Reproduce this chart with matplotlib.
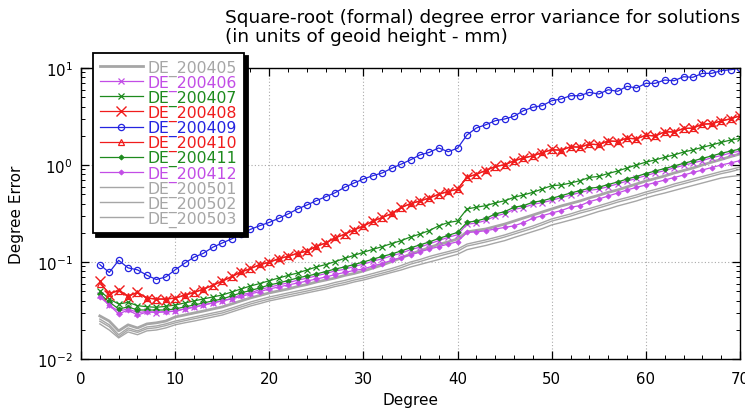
import numpy as np
import matplotlib
matplotlib.use("Agg")
import matplotlib.pyplot as plt
from matplotlib.ticker import MultipleLocator, LogLocator, NullFormatter

degrees = list(range(2, 71))
series_names = ["DE_200405", "DE_200406", "DE_200407", "DE_200408", "DE_200409", "DE_200410",
                "DE_200411", "DE_200412", "DE_200501", "DE_200502", "DE_200503"]

de_200405 = [0.0278, 0.0246, 0.0195, 0.0225, 0.0209, 0.023, 0.0236, 0.0246, 0.0271, 0.0284,
             0.0298, 0.0312, 0.0328, 0.0344, 0.0369, 0.0397, 0.0426, 0.0452, 0.048, 0.0503,
             0.0527, 0.0559, 0.0586, 0.0622, 0.0652, 0.0684, 0.0727, 0.0761, 0.0808, 0.0866,
             0.0931, 0.101, 0.110, 0.121, 0.130, 0.141, 0.152, 0.161, 0.173, 0.204,
             0.212, 0.219, 0.232, 0.246, 0.264, 0.284, 0.305, 0.328, 0.352, 0.378,
             0.401, 0.426, 0.458, 0.487, 0.523, 0.553, 0.594, 0.637, 0.684, 0.726,
             0.770, 0.827, 0.877, 0.931, 1.00, 1.07, 1.14, 1.22, 1.30]
de_200406 = [0.046, 0.036, 0.031, 0.033, 0.030, 0.031, 0.030, 0.031, 0.031, 0.033,
             0.034, 0.036, 0.038, 0.040, 0.042, 0.046, 0.048, 0.052, 0.055, 0.058,
             0.061, 0.065, 0.068, 0.072, 0.076, 0.081, 0.084, 0.090, 0.095, 0.102,
             0.108, 0.116, 0.123, 0.134, 0.142, 0.154, 0.166, 0.180, 0.191, 0.245,
             0.252, 0.268, 0.297, 0.315, 0.349, 0.364, 0.393, 0.409, 0.432, 0.461,
             0.489, 0.520, 0.548, 0.564, 0.598, 0.639, 0.682, 0.728, 0.777, 0.829,
             0.875, 0.934, 0.99, 1.05, 1.11, 1.19, 1.25, 1.33, 1.39]
de_200407 = [0.0506, 0.0416, 0.0369, 0.0384, 0.0355, 0.0346, 0.0341, 0.0349, 0.036, 0.0378,
             0.0397, 0.0416, 0.0436, 0.0457, 0.049, 0.0527, 0.0566, 0.060, 0.0641, 0.0684,
             0.0727, 0.077, 0.0827, 0.0888, 0.0942, 0.101, 0.109, 0.117, 0.126, 0.135,
             0.144, 0.155, 0.166, 0.181, 0.194, 0.211, 0.236, 0.255, 0.265, 0.352,
             0.367, 0.381, 0.406, 0.428, 0.464, 0.491, 0.523, 0.566, 0.612, 0.622,
             0.652, 0.689, 0.745, 0.763, 0.817, 0.867, 0.931, 1.00, 1.07, 1.13,
             1.20, 1.27, 1.36, 1.43, 1.52, 1.61, 1.71, 1.81, 1.88]
de_200408 = [0.063, 0.046, 0.052, 0.044, 0.049, 0.042, 0.042, 0.041, 0.043, 0.045,
             0.049, 0.052, 0.058, 0.063, 0.071, 0.078, 0.086, 0.093, 0.100, 0.107,
             0.115, 0.122, 0.130, 0.144, 0.158, 0.176, 0.194, 0.213, 0.236, 0.262,
             0.289, 0.313, 0.367, 0.396, 0.428, 0.454, 0.502, 0.530, 0.566, 0.744,
             0.807, 0.873, 0.97, 1.00, 1.11, 1.17, 1.25, 1.33, 1.45, 1.41,
             1.55, 1.52, 1.65, 1.61, 1.78, 1.74, 1.90, 1.85, 2.04, 1.98,
             2.21, 2.18, 2.39, 2.39, 2.65, 2.65, 2.86, 2.98, 3.23]
de_200409 = [0.094, 0.078, 0.104, 0.087, 0.083, 0.073, 0.066, 0.070, 0.083, 0.097,
             0.112, 0.123, 0.142, 0.157, 0.173, 0.194, 0.217, 0.237, 0.256, 0.282,
             0.313, 0.352, 0.387, 0.429, 0.471, 0.518, 0.589, 0.652, 0.717, 0.776,
             0.828, 0.925, 1.02, 1.13, 1.27, 1.35, 1.50, 1.37, 1.49, 2.04,
             2.41, 2.60, 2.86, 2.98, 3.18, 3.63, 3.94, 4.09, 4.60, 4.79,
             5.18, 5.18, 5.61, 5.39, 5.97, 5.75, 6.48, 6.22, 6.95, 6.95,
             7.52, 7.39, 8.13, 8.02, 8.81, 8.81, 9.37, 9.60, 10.0]
de_200410 = [0.060, 0.048, 0.050, 0.045, 0.048, 0.043, 0.041, 0.042, 0.042, 0.046,
             0.048, 0.053, 0.057, 0.064, 0.070, 0.080, 0.085, 0.095, 0.099, 0.109,
             0.114, 0.124, 0.129, 0.146, 0.156, 0.179, 0.192, 0.216, 0.233, 0.266,
             0.286, 0.318, 0.362, 0.402, 0.423, 0.460, 0.496, 0.538, 0.560, 0.755,
             0.798, 0.885, 0.96, 1.01, 1.10, 1.19, 1.24, 1.35, 1.43, 1.43,
             1.53, 1.54, 1.63, 1.63, 1.76, 1.76, 1.88, 1.87, 2.02, 2.00,
             2.19, 2.20, 2.37, 2.41, 2.62, 2.68, 2.83, 3.01, 3.20]
de_200411 = [0.0468, 0.0387, 0.0328, 0.0344, 0.032, 0.032, 0.032, 0.032, 0.0328, 0.0344,
             0.036, 0.0378, 0.0397, 0.0416, 0.0447, 0.048, 0.0509, 0.054, 0.058, 0.0607,
             0.0644, 0.0684, 0.0718, 0.0752, 0.0798, 0.0847, 0.0888, 0.0942, 0.100, 0.107,
             0.114, 0.121, 0.130, 0.140, 0.150, 0.161, 0.175, 0.188, 0.202, 0.256,
             0.265, 0.281, 0.313, 0.330, 0.367, 0.381, 0.413, 0.428, 0.454, 0.482,
             0.514, 0.544, 0.576, 0.590, 0.629, 0.668, 0.717, 0.761, 0.817, 0.867,
             0.920, 0.976, 1.04, 1.10, 1.17, 1.24, 1.32, 1.39, 1.46]
de_200412 = [0.0436, 0.036, 0.0291, 0.032, 0.0284, 0.0305, 0.0305, 0.0305, 0.0312, 0.0328,
             0.0344, 0.036, 0.0378, 0.0397, 0.0416, 0.0441, 0.0468, 0.0496, 0.0527, 0.0553,
             0.058, 0.0607, 0.0637, 0.0668, 0.070, 0.0743, 0.078, 0.0818, 0.0847, 0.091,
             0.0965, 0.104, 0.111, 0.118, 0.127, 0.136, 0.144, 0.153, 0.162, 0.202,
             0.205, 0.210, 0.219, 0.227, 0.236, 0.255, 0.283, 0.300, 0.320, 0.339,
             0.367, 0.381, 0.419, 0.446, 0.479, 0.514, 0.553, 0.588, 0.622, 0.660,
             0.700, 0.743, 0.788, 0.837, 0.888, 0.942, 1.00, 1.05, 1.11]
de_200501 = [0.0258, 0.0225, 0.0178, 0.0209, 0.0195, 0.0214, 0.0219, 0.023, 0.0246, 0.0258,
             0.0271, 0.0284, 0.0298, 0.0312, 0.0335, 0.036, 0.0387, 0.0411, 0.0436, 0.0457,
             0.048, 0.0503, 0.0527, 0.0553, 0.058, 0.0616, 0.0645, 0.0684, 0.0718, 0.0761,
             0.0808, 0.0857, 0.092, 0.100, 0.106, 0.114, 0.121, 0.128, 0.136, 0.153,
             0.161, 0.169, 0.179, 0.190, 0.204, 0.219, 0.235, 0.255, 0.278, 0.295,
             0.313, 0.336, 0.356, 0.380, 0.406, 0.436, 0.462, 0.491, 0.527, 0.559,
             0.594, 0.637, 0.675, 0.717, 0.761, 0.807, 0.857, 0.898, 0.953]
de_200502 = [0.0245, 0.0215, 0.0170, 0.0200, 0.0188, 0.0205, 0.0210, 0.0221, 0.0236, 0.0248,
             0.0260, 0.0272, 0.0285, 0.0298, 0.0320, 0.0344, 0.0369, 0.0392, 0.0415, 0.0436,
             0.0458, 0.0479, 0.0502, 0.0527, 0.0552, 0.0586, 0.0614, 0.0651, 0.0683, 0.0724,
             0.0768, 0.0815, 0.0874, 0.0950, 0.101, 0.108, 0.115, 0.122, 0.129, 0.146,
             0.153, 0.161, 0.170, 0.181, 0.194, 0.208, 0.223, 0.242, 0.264, 0.280,
             0.297, 0.319, 0.338, 0.361, 0.386, 0.414, 0.439, 0.466, 0.500, 0.531,
             0.564, 0.605, 0.641, 0.681, 0.723, 0.767, 0.814, 0.853, 0.905]
de_200503 = [0.023, 0.0199, 0.0165, 0.0190, 0.0178, 0.0195, 0.0199, 0.0209, 0.0225, 0.0236,
             0.0246, 0.0258, 0.0271, 0.0284, 0.0305, 0.0328, 0.0352, 0.0373, 0.0397, 0.0416,
             0.0436, 0.0457, 0.048, 0.0503, 0.0527, 0.0559, 0.0586, 0.0622, 0.0652, 0.0692,
             0.0735, 0.078, 0.0827, 0.0888, 0.0942, 0.100, 0.106, 0.113, 0.120, 0.134,
             0.141, 0.148, 0.157, 0.166, 0.179, 0.192, 0.206, 0.221, 0.241, 0.255,
             0.271, 0.288, 0.309, 0.332, 0.352, 0.378, 0.401, 0.426, 0.458, 0.487,
             0.514, 0.546, 0.580, 0.615, 0.652, 0.692, 0.734, 0.761, 0.78]

x_tick_values = [0, 10, 20, 30, 40, 50, 60, 70]
x_tick_labels = ["0", "10", "20", "30", "40", "50", "60", "70"]
title_lines = ["Square-root (formal) degree error variance for solutions",
               "(in units of geoid height - mm)"]

plt.rcParams['font.family'] = ['DejaVu Sans']

GRAY = "#a6a6a6"
PURPLE = "#c24de6"
GREEN = "#1d8a1d"
RED = "#f01c1c"
BLUE = "#2424e0"

styles = [
    dict(color=GRAY, lw=2.0, marker=None),
    dict(color=PURPLE, lw=0.9, marker='x', ms=4.5, mew=0.9),
    dict(color=GREEN, lw=0.9, marker='x', ms=4.5, mew=0.9),
    dict(color=RED, lw=0.9, marker='x', ms=6.5, mew=1.0),
    dict(color=BLUE, lw=0.9, marker='o', ms=4.5, mew=0.9, mfc='none'),
    dict(color=RED, lw=0.9, marker='^', ms=4.5, mew=0.9, mfc='none'),
    dict(color=GREEN, lw=0.9, marker='D', ms=2.6, mew=0.6),
    dict(color=PURPLE, lw=0.9, marker='D', ms=2.6, mew=0.6),
    dict(color=GRAY, lw=1.0, marker=None),
    dict(color=GRAY, lw=1.0, marker=None),
    dict(color=GRAY, lw=1.0, marker=None),
]
all_series = [de_200405, de_200406, de_200407, de_200408, de_200409, de_200410,
              de_200411, de_200412, de_200501, de_200502, de_200503]

fig = plt.figure(figsize=(7.45, 4.10), dpi=100)
ax = fig.add_axes([81/745, 50/410, 659/745, 291/410])

for name, vals, st in zip(series_names, all_series, styles):
    ax.plot(degrees, vals, label=name, **st)

ax.set_yscale('log')
ax.set_xlim(0, 70)
ax.set_ylim(0.01, 10)
ax.set_xticks(x_tick_values)
ax.set_xticklabels(x_tick_labels)
ax.xaxis.set_minor_locator(MultipleLocator(2))
ax.yaxis.set_major_locator(LogLocator(base=10, numticks=10))
ax.yaxis.set_minor_locator(LogLocator(base=10, subs=np.arange(2, 10), numticks=20))
ax.yaxis.set_minor_formatter(NullFormatter())

ax.tick_params(which='both', direction='in', top=True, right=True, colors='black')
ax.tick_params(which='major', length=5.5, width=0.9, labelsize=10.8)
ax.tick_params(which='minor', length=2.8, width=0.7)
ax.tick_params(axis='x', which='major', pad=9)
ax.tick_params(axis='y', which='major', pad=6)

for sp in ax.spines.values():
    sp.set_linewidth(1.0)
    sp.set_color('black')

ax.grid(True, which='major', linestyle=(0, (1, 2)), color='#aaaaaa', linewidth=0.8)
ax.set_axisbelow(True)

ax.set_xlabel("Degree", fontsize=11, labelpad=4)
ax.set_ylabel("Degree Error", fontsize=11, labelpad=9)

fig.text(225/745, 1 - 23/410, title_lines[0], fontsize=13.3, va='baseline', ha='left')
fig.text(225/745, 1 - 42/410, title_lines[1], fontsize=13.3, va='baseline', ha='left')

leg = ax.legend(loc='upper left', bbox_to_anchor=(93/745, 1 - 54/410),
                bbox_transform=fig.transFigure, fontsize=11.3, frameon=True,
                fancybox=False, framealpha=1, edgecolor='black', borderaxespad=0,
                borderpad=0.42, labelspacing=-0.07, handlelength=2.75,
                handletextpad=0.32,
                shadow={'ox': 2.5, 'oy': -2.5, 'facecolor': 'black',
                        'edgecolor': 'black', 'alpha': 1})
leg.get_frame().set_linewidth(1.3)
for txt, st in zip(leg.get_texts(), styles):
    txt.set_color(st['color'])

fig.savefig("out.png", dpi=100)
